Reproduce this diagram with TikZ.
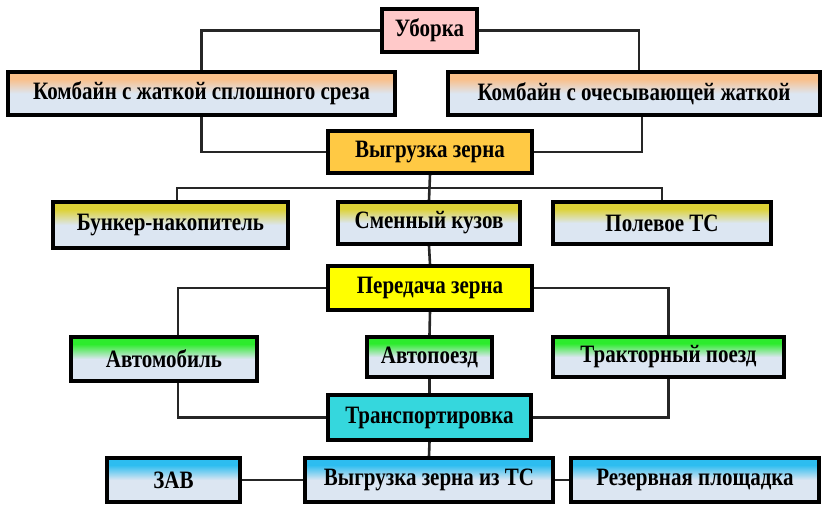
\documentclass[tikz,border=0pt]{standalone}
\usepackage{fontspec}
\setmainfont{Liberation Serif}[FakeStretch=0.84]
\usetikzlibrary{backgrounds}
\definecolor{lb}{HTML}{DCE6F2}
\definecolor{pinkc}{HTML}{FFC9C9}
\definecolor{orangec}{HTML}{F9BF8A}
\definecolor{goldc}{HTML}{FFC944}
\definecolor{olivec}{HTML}{DDD236}
\definecolor{yelc}{HTML}{FFFF00}
\definecolor{greenc}{HTML}{2DEB2D}
\definecolor{cyanc}{HTML}{35D7DD}
\definecolor{skyc}{HTML}{2DBDF0}
\pgfdeclareverticalshading{shorange}{100bp}{color(0bp)=(lb); color(50bp)=(lb); color(67bp)=(orangec); color(100bp)=(orangec)}
\pgfdeclareverticalshading{sholive}{100bp}{color(0bp)=(lb); color(50bp)=(lb); color(67bp)=(olivec); color(100bp)=(olivec)}
\pgfdeclareverticalshading{shgreen}{100bp}{color(0bp)=(lb); color(50bp)=(lb); color(67bp)=(greenc); color(100bp)=(greenc)}
\pgfdeclareverticalshading{shsky}{100bp}{color(0bp)=(lb); color(50bp)=(lb); color(67bp)=(skyc); color(100bp)=(skyc)}
\begin{document}
\begin{tikzpicture}[x=1pt,y=-1pt,
  bx/.style={draw=black,line width=3.2pt,inner sep=0pt,font=\fontsize{25}{28}\selectfont\bfseries},
  conn/.style={draw=black!85,line width=2.6pt}]
\useasboundingbox (0,0) rectangle (823,507);
\node[bx,fill=pinkc,minimum width=95,minimum height=43] (ub) at (429.5,30.5) {Уборка};
\node[bx,shading=shorange,minimum width=387,minimum height=43] (k1) at (201.5,93.5) {Комбайн с жаткой сплошного среза};
\node[bx,shading=shorange,minimum width=372,minimum height=43] (k2) at (634,93.5) {Комбайн с очесывающей жаткой};
\node[bx,fill=goldc,minimum width=204,minimum height=42] (vz) at (430,152) {Выгрузка зерна};
\node[bx,shading=sholive,minimum width=235,minimum height=46] (bn) at (170.5,225) {Бункер-накопитель};
\node[bx,shading=sholive,minimum width=182,minimum height=42] (sk) at (429,223) {Сменный кузов};
\node[bx,shading=sholive,minimum width=218,minimum height=42] (pt) at (662,223) {Полевое ТС};
\node[bx,fill=yelc,minimum width=204,minimum height=44] (pd) at (430,288) {Передача зерна};
\node[bx,shading=shgreen,minimum width=186,minimum height=44] (am) at (164,359) {Автомобиль};
\node[bx,shading=shgreen,minimum width=125,minimum height=40] (ap) at (429.5,357) {Автопоезд};
\node[bx,shading=shgreen,minimum width=231,minimum height=40] (tp) at (668.5,357) {Тракторный поезд};
\node[bx,fill=cyanc,minimum width=203,minimum height=45] (tr) at (429.5,417.5) {Транспортировка};
\node[bx,shading=shsky,minimum width=133,minimum height=44] (zav) at (173.5,480) {ЗАВ};
\node[bx,shading=shsky,minimum width=248,minimum height=44] (vts) at (429,480) {Выгрузка зерна из ТС};
\node[bx,shading=shsky,minimum width=248,minimum height=44] (rp) at (695,480) {Резервная площадка};
\coordinate (br) at (430,188);
\begin{scope}[on background layer]
\draw[conn] (ub.west) -| (k1.north);
\draw[conn] (ub.east) -| ([xshift=5]k2.north);
\draw[conn] (k1.south) |- (vz.west);
\draw[conn] ([xshift=8]k2.south) |- (vz.east);
\draw[conn] (vz.south) -- (sk.north);
\draw[conn] (br) -| ([xshift=6.5]bn.north);
\draw[conn] (br) -| (pt.north);
\draw[conn] (sk.south) -- (pd.north);
\draw[conn] (pd.west) -| ([xshift=14]am.north);
\draw[conn] (pd.east) -| (tp.north);
\draw[conn] (pd.south) -- (ap.north);
\draw[conn] (ap.south) -- (tr.north);
\draw[conn] ([xshift=14]am.south) |- (tr.west);
\draw[conn] (tp.south) |- (tr.east);
\draw[conn] (tr.south) -- (vts.north);
\draw[conn] (zav.east) -- (vts.west);
\draw[conn] (vts.east) -- (rp.west);
\end{scope}
\end{tikzpicture}
\end{document}
